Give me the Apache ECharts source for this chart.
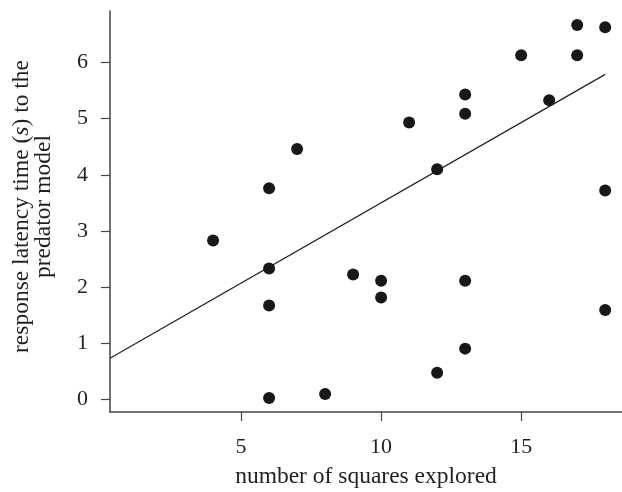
<!DOCTYPE html>
<html>
<head>
<meta charset="utf-8">
<script src="https://cdn.jsdelivr.net/npm/echarts@6/dist/echarts.min.js"></script>
<style>
  html, body { margin: 0; padding: 0; background: #fff; }
  #main { width: 622px; height: 492px; }
</style>
</head>
<body>
<div id="main"></div>
<script>
// squares explored vs response latency (s)
var squares = [17, 18, 15, 17, 13, 16, 13, 11, 7, 12, 6, 18, 4, 6, 9, 10, 13, 10, 6, 18, 13, 12, 8, 6];
var latency = [6.67, 6.63, 6.13, 6.13, 5.43, 5.33, 5.09, 4.93, 4.46, 4.10, 3.76, 3.72, 2.83, 2.33, 2.22, 2.11, 2.11, 1.81, 1.67, 1.59, 0.90, 0.47, 0.09, 0.02];
// fitted line
var fitX = [0.32, 18];
var fitY = [0.73, 5.79];
var xTicks = [5, 10, 15];
var yTicks = [0, 1, 2, 3, 4, 5, 6];

var chart = echarts.init(document.getElementById('main'));
var font = '"Liberation Serif", "DejaVu Serif", serif';
var ink = '#231f20';

var points = squares.map(function (x, i) { return [x, latency[i]]; });
var fit = fitX.map(function (x, i) { return [x, fitY[i]]; });

chart.setOption({
  backgroundColor: '#fff',
  animation: false,
  grid: {
    left: 110,
    right: 0,
    top: 11,
    bottom: 80,
    containLabel: false,
    outerBoundsMode: 'none'
  },
  xAxis: {
    type: 'value',
    min: 0.32,
    max: 18.6,
    name: 'number of squares explored',
    nameLocation: 'middle',
    nameGap: 53,
    nameMoveOverlap: false,
    nameTextStyle: {
      fontFamily: font,
      fontSize: 23.5,
      color: ink
    },
    axisLine: {
      show: true,
      onZero: false,
      lineStyle: { color: '#444', width: 1.5 }
    },
    axisTick: {
      show: true,
      inside: false,
      length: 9,
      customValues: xTicks,
      lineStyle: { color: '#444', width: 1.2 }
    },
    axisLabel: {
      customValues: xTicks,
      margin: 24,
      fontFamily: font,
      fontSize: 22,
      color: ink
    },
    splitLine: { show: false }
  },
  yAxis: {
    type: 'value',
    min: -0.23,
    max: 6.92,
    name: 'response latency time ({i|s}) to the\npredator model',
    nameLocation: 'middle',
    nameRotate: 90,
    nameGap: 55,
    nameMoveOverlap: false,
    nameTextStyle: {
      fontFamily: font,
      fontSize: 23.5,
      color: ink,
      lineHeight: 22,
      padding: [0, 0, 0, 10],
      rich: {
        i: {
          fontFamily: font,
          fontSize: 23.5,
          fontStyle: 'italic',
          color: ink
        }
      }
    },
    axisLine: {
      show: true,
      onZero: false,
      lineStyle: { color: '#444', width: 1.5 }
    },
    axisTick: {
      show: true,
      inside: false,
      length: 9,
      customValues: yTicks,
      lineStyle: { color: '#444', width: 1.2 }
    },
    axisLabel: {
      customValues: yTicks,
      margin: 22,
      fontFamily: font,
      fontSize: 22,
      color: ink
    },
    splitLine: { show: false }
  },
  series: [{
    type: 'line',
    data: fit,
    symbol: 'none',
    lineStyle: { color: ink, width: 1.2 },
    z: 2
  }, {
    type: 'scatter',
    data: points,
    symbolSize: 12,
    itemStyle: { color: '#1a1718', opacity: 1 },
    z: 3
  }]
});
</script>
</body>
</html>
